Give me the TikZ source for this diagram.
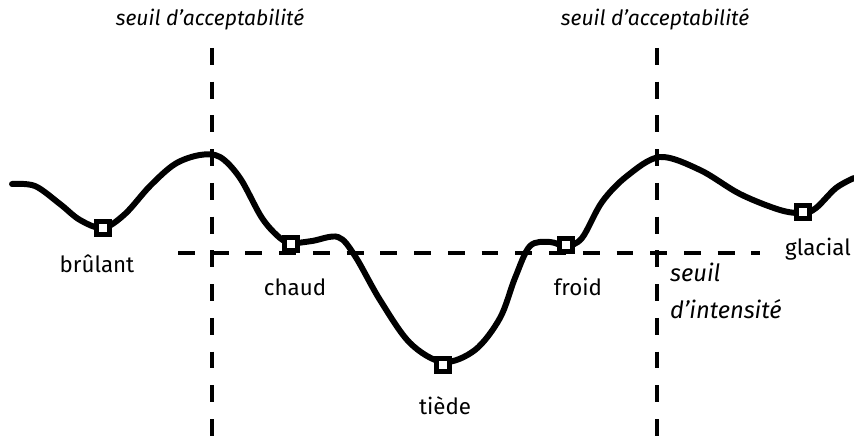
\documentclass[tikz,border=0pt]{standalone}
\usepackage{fontspec}
\setmainfont{Fira Sans}
\begin{document}
\begin{tikzpicture}[x=0.02cm, y=-0.02cm, font=\fontsize{12.7}{15}\selectfont,
    seuil/.style={line width=2.1pt, dash pattern=on 9.6pt off 9.6pt},
    courbe/.style={line width=3.4pt, line join=round, line cap=round},
    etat/.style={draw, fill=white, line width=2.8pt, minimum size=7.5pt, inner sep=0pt},
    legende/.style={font=\fontsize{12}{15}\selectfont\itshape}]
  % La courbe passe par les cinq etats; les deux seuils d'acceptabilite coupent aux sommets,
  % le seuil d'intensite est la ligne horizontale.
  \useasboundingbox (0,0) rectangle (854,439);
  \draw[seuil] (212,48) -- (212,439);
  \draw[seuil] (657,48) -- (657,439);
  \draw[seuil] (178,253) -- (760,253);
  \draw[courbe] plot[smooth, tension=0.55] coordinates {
    (12,184) (35,186) (60,204) (80,220) (103,228) (125,214) (150,186) (175,164)
    (200,155) (220,157) (240,178) (262,218) (280,238) (292,243) (312,241) (338,237)
    (355,256) (380,300) (410,343) (443,362) (475,350) (500,318) (515,278) (530,246)
    (550,242) (566,246) (582,238) (602,202) (627,176) (660,157) (700,170) (740,194)
    (780,210) (803,213) (816,208) (836,188) (854,178)};
  \node[etat] (brulant) at (103,228) {};
  \node[etat] (chaud)   at (291,244) {};
  \node[etat] (tiede)   at (443,365) {};
  \node[etat] (froid)   at (566,245) {};
  \node[etat] (glacial) at (803,212) {};
  \node (lbrulant) at (97,264)  {brûlant};
  \node (lchaud)   at (295,287) {chaud};
  \node (ltiede)   at (445,406) {tiède};
  \node (lfroid)   at (578,287) {froid};
  \node (lglacial) at (818,249) {glacial};
  \node[legende] (acc1) at (210,19) {seuil d’acceptabilité};
  \node[legende] (acc2) at (655,19) {seuil d’acceptabilité};
  \node[legende, font=\fontsize{13.5}{21}\selectfont\itshape, anchor=west, align=left]
    (intens) at (664,291) {seuil\\d’intensité};
\end{tikzpicture}
\end{document}
